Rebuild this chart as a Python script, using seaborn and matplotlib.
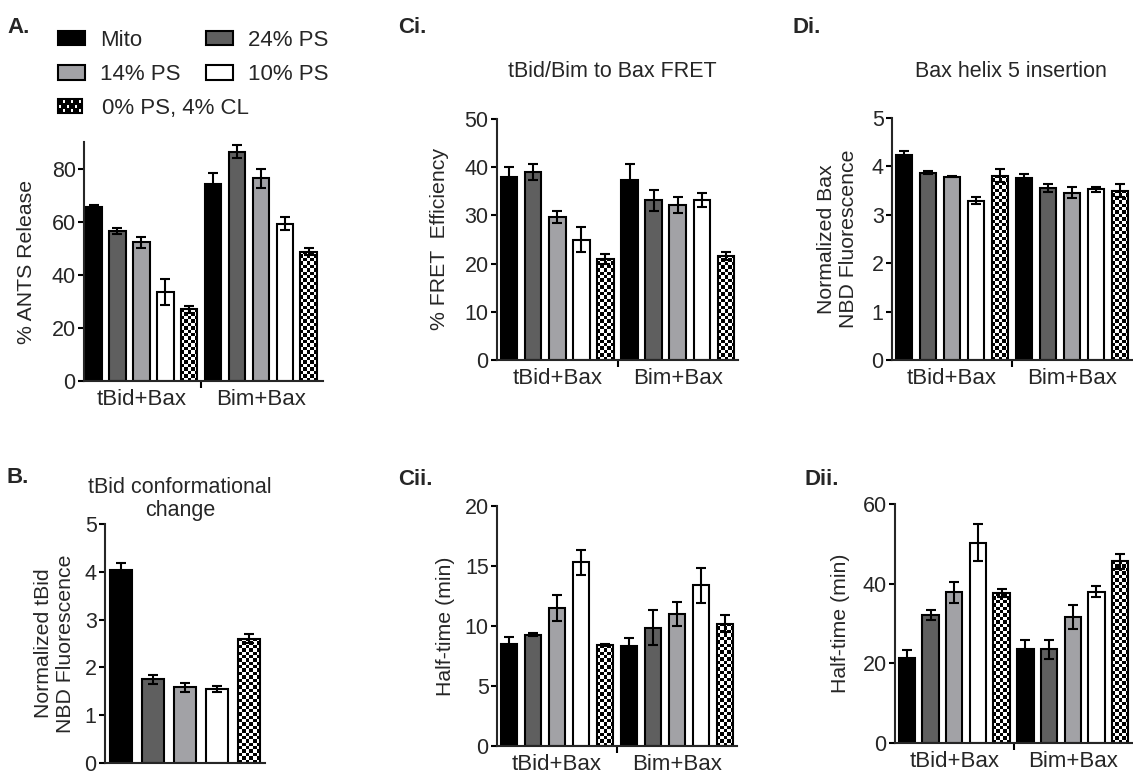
import numpy as np
import pandas as pd
import matplotlib
matplotlib.use("Agg")
import matplotlib.pyplot as plt
import seaborn as sns
from matplotlib.patches import Patch, Rectangle
from matplotlib.legend_handler import HandlerBase

# -----------------------------
# Data (mean, error)
# -----------------------------
conditions = ["Mito", "24% PS", "14% PS", "10% PS", "0% PS, 4% CL"]
colors = ["#000000", "#5f5f5f", "#a2a2a6", "#ffffff", "#ffffff"]
groups = ["tBid+Bax", "Bim+Bax"]

# A. ANTS release
ants_mean = [[65.6, 56.5, 52.2, 33.6, 27.0], [74.0, 86.4, 76.4, 59.2, 48.6]]
ants_err = [[0.7, 1.1, 2.2, 4.8, 1.3], [4.3, 2.5, 3.6, 2.4, 1.3]]

# B. tBid conformational change (tBid only)
tbid_mean = [[4.04, 1.75, 1.58, 1.55, 2.60]]
tbid_err = [[0.14, 0.10, 0.09, 0.06, 0.09]]

# Ci. FRET efficiency
fret_mean = [[38.0, 39.0, 29.7, 25.0, 21.0], [37.3, 33.1, 32.2, 33.2, 21.6]]
fret_err = [[2.0, 1.6, 1.2, 2.6, 1.0], [3.4, 2.1, 1.6, 1.5, 0.8]]

# Cii. FRET half-time
fret_t_mean = [[8.46, 9.29, 11.5, 15.3, 8.4], [8.37, 9.87, 11.04, 13.4, 10.2]]
fret_t_err = [[0.6, 0.1, 1.08, 1.04, 0.1], [0.67, 1.46, 1.0, 1.46, 0.7]]

# Di. Bax helix 5 insertion
nbd_mean = [[4.24, 3.87, 3.79, 3.29, 3.81], [3.76, 3.56, 3.46, 3.53, 3.50]]
nbd_err = [[0.08, 0.035, 0.01, 0.07, 0.14], [0.08, 0.08, 0.11, 0.05, 0.13]]

# Dii. insertion half-time
nbd_t_mean = [[21.4, 32.1, 37.8, 50.3, 37.6], [23.5, 23.5, 31.7, 38.0, 45.6]]
nbd_t_err = [[2.0, 1.2, 2.6, 4.7, 1.05], [2.3, 2.3, 3.05, 1.3, 1.8]]

# -----------------------------
# Style
# -----------------------------
sns.set_style("ticks")
plt.rcParams["font.family"] = ["Liberation Sans", "DejaVu Sans"]
plt.rcParams["axes.linewidth"] = 1.5

W, H = 1133, 779
fig = plt.figure(figsize=(W / 100, H / 100), dpi=100)


def add_ax(left, top, right, bottom):
    return fig.add_axes([left / W, 1 - bottom / H, (right - left) / W, (bottom - top) / H])


def draw_panel(ax, means, errs, grp, ylim, yticks, ylabel, label_x, xlim, show_x=True):
    rows = []
    for g, m_row in zip(grp, means):
        for c, v in zip(conditions, m_row):
            rows.append({"group": g, "cond": c, "value": v})
    df = pd.DataFrame(rows)
    sns.barplot(data=df, x="group", y="value", hue="cond", order=grp,
                hue_order=conditions, palette=dict(zip(conditions, colors)),
                width=1.0, gap=0.31, errorbar=None, saturation=1,
                edgecolor="black", linewidth=1.5, legend=False, ax=ax)
    ax.set_xlim(*xlim)
    ax.set_ylim(*ylim)
    bars = list(ax.containers)

    # error bars on top of each bar
    xs, ys, es = [], [], []
    for i, cont in enumerate(bars):
        for j, p in enumerate(cont.patches):
            xs.append(p.get_x() + p.get_width() / 2)
            ys.append(p.get_height())
            es.append(errs[j][i])
    ax.errorbar(xs, ys, yerr=es, fmt="none", ecolor="black", elinewidth=1.5,
                capsize=3.6, capthick=1.5, zorder=3)

    # checkerboard fill for the last condition
    for p in bars[-1].patches:
        x0, y0, w, h = p.get_x(), p.get_y(), p.get_width(), p.get_height()
        (px0, py0), (px1, py1) = ax.transData.transform([(x0, y0), (x0 + w, y0 + h)])
        nx = max(1, int(round((px1 - px0) / 3.4)))
        ny = max(1, int(round((py1 - py0) / 3.4)))
        board = np.indices((ny, nx)).sum(axis=0) % 2
        im = ax.imshow(board, cmap="gray", vmin=0, vmax=1, extent=(x0, x0 + w, y0, y0 + h),
                       origin="lower", interpolation="nearest", aspect="auto", zorder=0.9)
        im.set_clip_path(p)
        p.set_facecolor("none")

    ax.set_xlim(*xlim)
    ax.set_ylim(*ylim)
    ax.set_yticks(yticks)
    sns.despine(ax=ax)
    ax.tick_params(axis="y", length=4, width=1.5, labelsize=15.5, pad=2, color="black")
    ax.tick_params(axis="x", which="major", length=0, labelsize=16, pad=6)
    if show_x:
        ax.set_xticks(range(len(grp)))
        ax.set_xticklabels(grp)
        ax.set_xticks([0.5], minor=True)
        ax.tick_params(axis="x", which="minor", length=5, width=1.5, color="black")
    else:
        ax.set_xticks([])
    ax.set_xlabel("")
    ax.set_ylabel(ylabel, fontsize=15.3)
    ax.yaxis.set_label_coords(label_x, 0.5)


axA = add_ax(84, 142, 323, 381)
draw_panel(axA, ants_mean, ants_err, groups, (0, 90), [0, 20, 40, 60, 80],
           "% ANTS Release", -0.20, (-0.48, 1.52))

axB = add_ax(105, 524, 265, 763)
draw_panel(axB, tbid_mean, tbid_err, ["tBid+Bax"], (0, 5), range(6),
           "Normalized tBid\nNBD Fluorescence", -0.19, (-0.5, 0.5), show_x=False)

axCi = add_ax(497, 119, 738, 360)
draw_panel(axCi, fret_mean, fret_err, groups, (0, 50), range(0, 51, 10),
           "% FRET  Efficiency", -0.20, (-0.5, 1.5))

axCii = add_ax(497, 506, 737, 746)
draw_panel(axCii, fret_t_mean, fret_t_err, groups, (0, 20), range(0, 21, 5),
           "Half-time (min)", -0.175, (-0.5, 1.5))

axDi = add_ax(892, 118, 1132, 360)
draw_panel(axDi, nbd_mean, nbd_err, groups, (0, 5), range(6),
           "Normalized Bax\nNBD Fluorescence", -0.14, (-0.5, 1.5))

axDii = add_ax(895, 504, 1132, 743)
draw_panel(axDii, nbd_t_mean, nbd_t_err, groups, (0, 60), [0, 20, 40, 60],
           "Half-time (min)", -0.19, (-0.5, 1.5))

# titles
fig.text(612 / W, 1 - 77 / H, "tBid/Bim to Bax FRET", ha="center", va="baseline", fontsize=15.5)
fig.text(1011 / W, 1 - 77 / H, "Bax helix 5 insertion", ha="center", va="baseline", fontsize=15.5)
fig.text(180 / W, 1 - 493 / H, "tBid conformational", ha="center", va="baseline", fontsize=15.5)
fig.text(180 / W, 1 - 516 / H, "change", ha="center", va="baseline", fontsize=15.5)

# panel labels
for txt, x, y in [("A.", 7, 33), ("Ci.", 398, 33), ("Di.", 793, 33),
                  ("B.", 7, 483), ("Cii.", 398, 485), ("Dii.", 805, 485)]:
    fig.text(x / W, 1 - y / H, txt, ha="left", va="baseline", fontsize=16, fontweight="bold")


# legend with a checkerboard key
class CheckerHandler(HandlerBase):
    def create_artists(self, legend, orig_handle, xdescent, ydescent, width, height,
                       fontsize, trans):
        x0, y0 = -xdescent, -ydescent
        arts = [Rectangle((x0, y0), width, height, facecolor="black", lw=0, transform=trans)]
        nx, ny = 6, 3
        cw, ch = width / nx, height / ny
        for i in range(nx):
            for j in range(ny):
                if (i + j) % 2 == 1:
                    arts.append(Rectangle((x0 + (i + 0.2) * cw, y0 + (j + 0.2) * ch),
                                          cw * 0.6, ch * 0.6,
                                          facecolor="white", lw=0, transform=trans))
        arts.append(Rectangle((x0, y0), width, height, fill=False, edgecolor="black",
                              lw=1.5, transform=trans))
        return arts


handles = [Patch(facecolor=c, edgecolor="black", linewidth=1.5) for c in colors]
order = [0, 2, 1, 3]
leg1 = fig.legend([handles[i] for i in order], [conditions[i] for i in order],
                  loc="upper left", bbox_to_anchor=(58 / W, 1 - 30 / H), ncol=2,
                  frameon=False, fontsize=16, borderpad=0, borderaxespad=0,
                  handlelength=1.2, handleheight=0.6, handletextpad=0.68,
                  labelspacing=0.6, columnspacing=1.17)
fig.legend([handles[4]], [conditions[4]], handler_map={handles[4]: CheckerHandler()},
           loc="upper left", bbox_to_anchor=(58 / W, 1 - 98 / H), frameon=False,
           fontsize=16, borderpad=0, borderaxespad=0, handlelength=1.08,
           handleheight=0.6, handletextpad=0.9)

plt.savefig("out.png", dpi=100)
